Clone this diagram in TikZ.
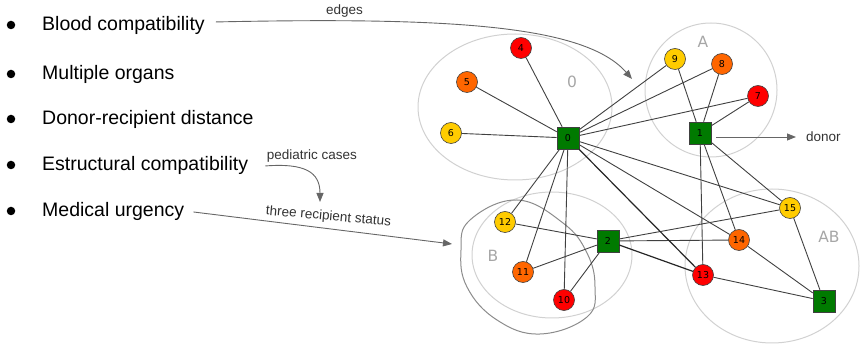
\documentclass[tikz,border=0pt]{standalone}
\usepackage{fontspec}
\setmainfont{Liberation Sans}
\newfontfamily\dejavu{DejaVu Sans}
\usetikzlibrary{arrows.meta}
\definecolor{urgred}{HTML}{FF0000}
\definecolor{urgorange}{HTML}{FF6600}
\definecolor{urgyellow}{HTML}{FFCC00}
\definecolor{donorgreen}{HTML}{007A00}
\tikzset{
  patient/.style={circle, draw=black!75, line width=0.6pt, minimum size=21pt,
    inner sep=0pt, font=\dejavu\fontsize{9.5}{9.5}\selectfont},
  critical/.style={patient, fill=urgred},
  serious/.style={patient, fill=urgorange},
  stable/.style={patient, fill=urgyellow},
  donorbox/.style={rectangle, draw=black!75, line width=0.6pt, fill=donorgreen,
    minimum size=22pt, inner sep=0pt, font=\dejavu\fontsize{9.5}{9.5}\selectfont},
  link/.style={draw=black!75, line width=0.9pt},
  heavylink/.style={draw=black!85, line width=1.2pt},
  note/.style={draw=black!60, line width=0.9pt, ->},
  group/.style={draw=black!18, line width=1pt},
  blob/.style={draw=black!45, line width=1pt},
  grouplabel/.style={text=black!35, inner sep=0pt, font=\dejavu\fontsize{15.5}{16}\selectfont},
  item/.style={anchor=base west, inner sep=0pt, font=\fontsize{19.5}{20}\selectfont},
  dot/.style={circle, fill=black, minimum size=8.5pt, inner sep=0pt},
  small/.style={inner sep=0pt, text=black!80, font=\fontsize{13.5}{14}\selectfont}
}
\begin{document}
\begin{tikzpicture}[x=1pt, y=1pt, >={Triangle[length=9pt,width=7pt]}]
  \useasboundingbox (0,0) rectangle (860,-344);

  \draw[group] (515,-107) ellipse [x radius=97, y radius=73];
  \draw[group] (711,-90) ellipse [x radius=66, y radius=67];
  \draw[group] (552,-255) ellipse [x radius=80, y radius=63];
  \draw[group] (772,-266) ellipse [x radius=87, y radius=77];
  \draw[blob] plot[smooth cycle, tension=0.7] coordinates {(470,-220) (517,-200) (563,-223)
    (587,-253) (595,-287) (587,-317) (540,-334) (497,-320) (467,-287) (461,-250)};

  \node[grouplabel] (g0) at (572,-82) {0};
  \node[grouplabel] (gA) at (703,-42) {A};
  \node[grouplabel] (gB) at (493,-256) {B};
  \node[grouplabel] (gAB) at (829,-237) {AB};

  \node[dot] (d1) at (11,-25) {};
  \node[dot] (d2) at (11,-74) {};
  \node[dot] (d3) at (11,-119) {};
  \node[dot] (d4) at (11,-165) {};
  \node[dot] (d5) at (11,-211) {};
  \node[item] (t1) at (42,-31) {Blood compatibility};
  \node[item] (t2) at (42,-80) {Multiple organs};
  \node[item] (t3) at (42,-125) {Donor-recipient distance};
  \node[item] (t4) at (42,-171) {Estructural compatibility};
  \node[item] (t5) at (42,-217) {Medical urgency};

  \node[donorbox] (0) at (568,-138) {0};
  \node[donorbox] (1) at (700,-133) {1};
  \node[donorbox] (2) at (608,-241) {2};
  \node[donorbox] (3) at (824,-301) {3};
  \node[critical] (4) at (521,-48) {4};
  \node[serious] (5) at (467,-82) {5};
  \node[stable] (6) at (451,-133) {6};
  \node[critical] (7) at (758,-96) {7};
  \node[serious] (8) at (722,-64) {8};
  \node[stable] (9) at (675,-59) {9};
  \node[critical] (10) at (564,-300) {10};
  \node[serious] (11) at (523,-272) {11};
  \node[stable] (12) at (505,-222) {12};
  \node[critical] (13) at (703,-275) {13};
  \node[serious] (14) at (739,-240) {14};
  \node[stable] (15) at (790,-208) {15};

  \node[small, anchor=west] (donor) at (806,-137) {donor};

  \path[link] (0) edge (4) edge (5) edge (6) edge (9) edge (8) edge (7)
                  edge (12) edge (11) edge (10) edge (14) edge (15)
              (1) edge (9) edge (8) edge (7) edge (13) edge (14) edge (15)
              (2) edge (12) edge (11) edge (10) edge (15) edge (14)
              (3) edge (15) edge (14) edge (13)
              ;
  \path[heavylink] (0) edge (13)
                   (2) edge (13)
                   ;

  \coordinate (e1) at (632,-79);
  \coordinate (e2) at (320,-202);
  \coordinate (e3) at (452,-244);
  \draw[note] ([xshift=11pt,yshift=4pt]t1.east) .. controls (450,-17) and (585,-25) .. (e1)
    node[small, pos=0.2, above=3pt] {edges};
  \draw[note] ([xshift=17pt]t4.east) .. controls (305,-163) and (320,-172) .. (e2)
    node[small, pos=0, anchor=south west, xshift=1pt, yshift=3pt] {pediatric cases};
  \draw[note] ([xshift=9pt]t5.east) -- (e3)
    node[small, pos=0.52, above=5pt, rotate=-5] {three recipient status};
  \draw[note, shorten <=5pt, shorten >=10pt] (1.east |- donor.west) -- (donor.west);
\end{tikzpicture}
\end{document}
